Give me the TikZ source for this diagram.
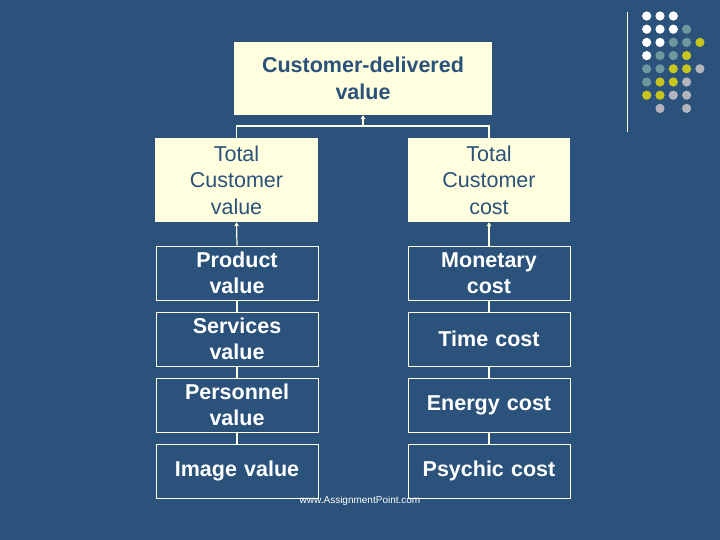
\documentclass[tikz,border=0pt]{standalone}
\usepackage{fontspec}
\setmainfont{Liberation Sans}
\usepackage{tikz}
\usetikzlibrary{arrows.meta,positioning}
\definecolor{slide}{RGB}{43,82,122}
\definecolor{cream}{RGB}{255,255,224}
\definecolor{dotw}{RGB}{255,255,255}
\definecolor{dott}{RGB}{110,152,158}
\definecolor{doty}{RGB}{200,198,30}
\definecolor{dotg}{RGB}{180,180,190}

\begin{document}
\begin{tikzpicture}[
  x=1pt, y=-1pt,
  font=\fontsize{21.5}{26.5}\selectfont,
  sumbox/.style={fill=cream, text=slide, align=center, text width=#1, minimum height=84pt, inner sep=0pt},
  sumbox/.default=160pt,
  partbox/.style={draw=cream, line width=1pt, text=white, font=\fontsize{21.5}{26.5}\selectfont\bfseries, align=center, text width=158pt, minimum width=162pt, minimum height=54pt, inner sep=0pt},
  link/.style={draw=cream, line width=1.2pt},
  arr/.style={link, -{Triangle[length=4pt,width=4.5pt]}},
  ]
% slide background and frame
\fill[slide] (0,0) rectangle (720,540);
\useasboundingbox (0,0) rectangle (720,540);
% corner decoration
\draw[cream, line width=1pt] (627,12) -- (627,132);
\foreach \c/\r/\k in {0/0/dotw,1/0/dotw,2/0/dotw,
  0/1/dotw,1/1/dotw,2/1/dotw,3/1/dott,
  0/2/dotw,1/2/dotw,2/2/dott,3/2/dott,4/2/doty,
  0/3/dotw,1/3/dott,2/3/dott,3/3/doty,
  0/4/dott,1/4/dott,2/4/doty,3/4/doty,4/4/dotg,
  0/5/dott,1/5/doty,2/5/doty,3/5/dotg,
  0/6/doty,1/6/doty,2/6/dotg,3/6/dotg,
  1/7/dotg,3/7/dotg}
  \fill[\k] (646.7+13.3*\c, 16+13.2*\r) circle (4.6);
% top
\node[sumbox=250pt, minimum width=258pt, minimum height=73pt, font=\fontsize{21.5}{26.5}\selectfont\bfseries] (cdv) at (363,78.5) {Customer-delivered\\value};
% second row
\node[sumbox, minimum width=163pt] (tcv) at (236.5,180) {Total\\Customer\\value};
\node[sumbox, minimum width=162pt] (tcc) at (489,180) {Total\\Customer\\cost};
% value column
\node[partbox] (prod) at (237,273) {Product\\value};
\node[partbox] (serv) at (237,339) {Services\\value};
\node[partbox] (pers) at (237,405) {Personnel\\value};
\node[partbox] (img)  at (237,471) {Image value};
% cost column
\node[partbox] (mon) at (489,273) {Monetary\\cost};
\node[partbox] (tim) at (489,339) {Time cost};
\node[partbox] (ene) at (489,405) {Energy cost};
\node[partbox] (psy) at (489,471) {Psychic cost};
% footer
\node[text=white, font=\fontsize{10}{12}\selectfont] (site) at (360,501) {www.AssignmentPoint.com};
% connectors
\coordinate (jn) at (363,126);
\draw[link] (tcv.north) |- (jn) -| (tcc.north);
\draw[arr] (jn) -- (cdv.south);
\draw[arr] (prod.north) -- (tcv.south);
\draw[arr] (mon.north) -- (tcc.south);
\draw[link] (prod) -- (serv);
\draw[link] (serv) -- (pers);
\draw[link] (pers) -- (img);
\draw[link] (mon) -- (tim);
\draw[link] (tim) -- (ene);
\draw[link] (ene) -- (psy);
\end{tikzpicture}
\end{document}
